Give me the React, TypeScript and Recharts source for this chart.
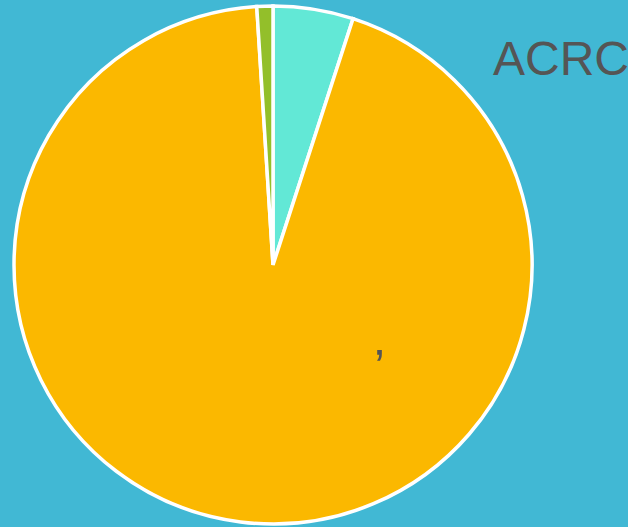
import React from 'react';
import { PieChart, Pie, Cell } from 'recharts';

const categories = ['Teal', 'Yellow', 'Green'];
const values = [5, 94, 1];
const colors = ['#62E8D6', '#FBB800', '#93BF2A'];

const data = categories.map((name, i) => ({ name, value: values[i] }));

const App: React.FC = () => {
  return (
    <div style={{ position: 'fixed', top: 0, left: 0, width: 628, height: 527, background: '#41B8D4', overflow: 'hidden' }}>
      <PieChart width={628} height={527} margin={{ top: 0, right: 0, bottom: 0, left: 0 }}>
        <Pie
          data={data}
          dataKey="value"
          nameKey="name"
          cx={273}
          cy={265}
          outerRadius={259}
          startAngle={90}
          endAngle={-270}
          stroke="#ffffff"
          strokeWidth={3.5}
          isAnimationActive={false}
        >
          {data.map((d, i) => (
            <Cell key={d.name} fill={colors[i]} />
          ))}
        </Pie>
      </PieChart>
      <div
        style={{
          position: 'absolute',
          left: 493,
          top: 31,
          fontFamily: '"Liberation Sans", Arial, sans-serif',
          fontSize: 48,
          lineHeight: '56px',
          color: '#555555',
          whiteSpace: 'nowrap',
        }}
      >
        ACRC
      </div>
      <div
        style={{
          position: 'absolute',
          left: 374,
          top: 338,
          fontFamily: '"Liberation Sans", Arial, sans-serif',
          fontSize: 49,
          lineHeight: '56px',
          color: '#555555',
          whiteSpace: 'nowrap',
        }}
      >
        ’
      </div>
    </div>
  );
};

export default App;
